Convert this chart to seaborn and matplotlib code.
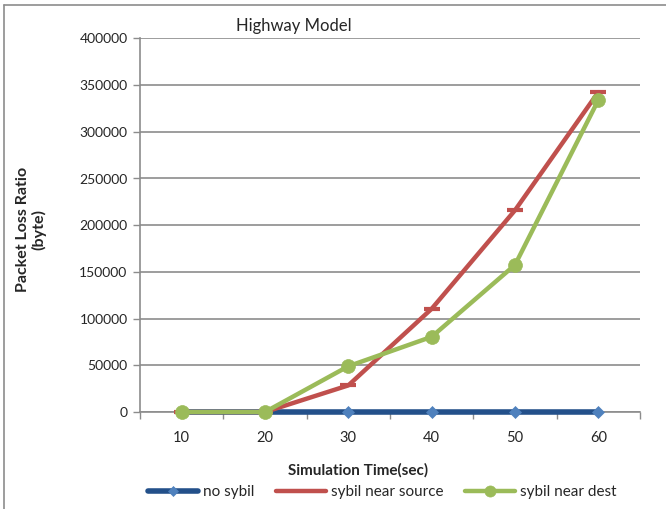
import matplotlib
matplotlib.use("Agg")
import matplotlib.pyplot as plt
from matplotlib.lines import Line2D
import seaborn as sns
import pandas as pd

# Simulation times and packet loss per scenario
times = ["10", "20", "30", "40", "50", "60"]
no_sybil = [0, 0, 0, 0, 0, 0]
sybil_near_source = [0, 0, 28500, 110500, 216000, 342500]
sybil_near_dest = [0, 0, 49000, 80500, 157500, 334000]
y_ticks = [0, 50000, 100000, 150000, 200000, 250000, 300000, 350000, 400000]

sns.set_theme(style="white")
plt.rcParams["font.family"] = ["Lato", "DejaVu Sans"]

fig = plt.figure(figsize=(6.66, 5.09), dpi=100)
ax = fig.add_axes([140 / 666, 1 - 412 / 509, 500 / 666, 373.6 / 509])

series = [
    ("no sybil", no_sybil, "#23508A", "D", "#4F81BD", 6.5, 4.0),
    ("sybil near source", sybil_near_source, "#C0504D", "_", "#C0504D", 11, 3.2),
    ("sybil near dest", sybil_near_dest, "#9BBB59", "o", "#9BBB59", 10, 3.2),
]

handles = []
for z, (name, vals, color, marker, mcolor, ms, lw) in enumerate(series):
    df = pd.DataFrame({"time": times, "loss": vals})
    sns.lineplot(data=df, x="time", y="loss", ax=ax, color=color, linewidth=lw,
                 marker=marker, markersize=ms, markerfacecolor=mcolor,
                 markeredgecolor=mcolor, markeredgewidth=3 if marker == "_" else 0.5,
                 zorder=3 + z, sort=False, clip_on=False)
    handles.append(Line2D([], [], color=color, linewidth=lw, marker=marker,
                          markersize=ms * 0.8, markerfacecolor=mcolor,
                          markeredgecolor=mcolor,
                          markeredgewidth=2 if marker == "_" else 0.5, label=name))

ax.set_xlim(-0.5, 5.5)
ax.set_ylim(0, 400000)
ax.set_yticks(y_ticks)
ax.set_yticklabels([str(v) for v in y_ticks], fontsize=10)
ax.set_xticks(range(len(times)))
ax.set_xticklabels(times, fontsize=10.5)
ax.set_xticks([i - 0.5 for i in range(len(times) + 1)], minor=True)

grid_color = "#8C8C8C"
ax.yaxis.grid(True, color=grid_color, linewidth=1.2)
ax.set_axisbelow(True)
for s in ["top", "right"]:
    ax.spines[s].set_visible(False)
for s in ["left", "bottom"]:
    ax.spines[s].set_color(grid_color)
    ax.spines[s].set_linewidth(1.2)

ax.tick_params(axis="y", which="major", left=True, length=5, width=1, color=grid_color, pad=4)
ax.tick_params(axis="x", which="major", bottom=False, pad=8)
ax.tick_params(axis="x", which="minor", bottom=True, length=5, width=1, color=grid_color)

ax.set_xlabel("")
ax.set_ylabel("")
fig.text(358 / 666, 1 - 470 / 509, "Simulation Time(sec)", ha="center", va="center",
         fontsize=11, fontweight="bold")
fig.text(31 / 666, 1 - 229 / 509, "Packet Loss Ratio\n(byte)", ha="center", va="center",
         rotation=90, fontsize=11.5, fontweight="bold", linespacing=1.15)
fig.text(294 / 666, 1 - 26 / 509, "Highway Model", ha="center", va="center", fontsize=12)

fig.legend(handles=handles, loc="center", bbox_to_anchor=(382 / 666, 1 - 492 / 509),
           ncol=3, frameon=False, fontsize=11, handlelength=3.3, handletextpad=0.3,
           columnspacing=1.4)

# Chart frame
fig.add_artist(Line2D([4 / 666, 4 / 666], [0, 1 - 5 / 509], transform=fig.transFigure,
                      color="#8C8C8C", linewidth=1.2))
fig.add_artist(Line2D([4 / 666, 1], [1 - 5 / 509, 1 - 5 / 509], transform=fig.transFigure,
                      color="#8C8C8C", linewidth=1.2))

fig.savefig("out.png", dpi=100)
